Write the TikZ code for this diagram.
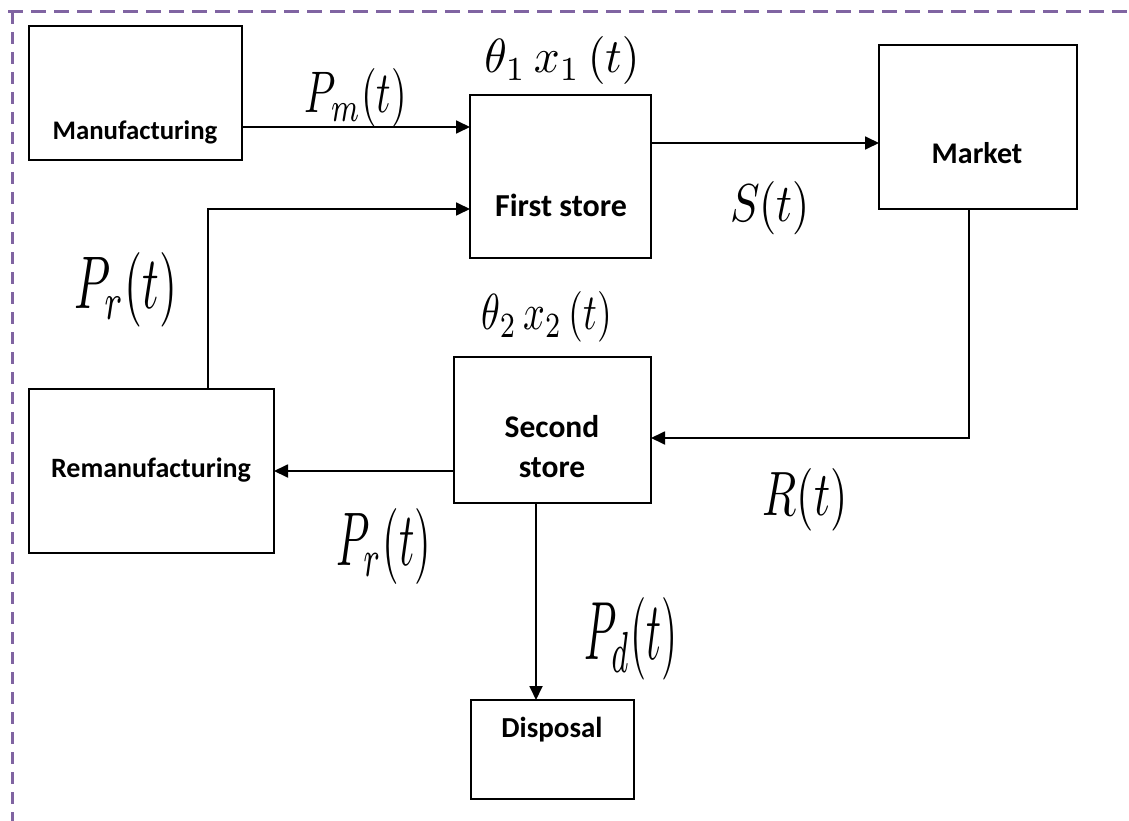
\documentclass[tikz,border=0pt]{standalone}
\usepackage{fontspec}
\newfontfamily\boxfont{Carlito}
\usetikzlibrary{arrows.meta}
\definecolor{brd}{HTML}{8064A2}
\newcommand\mlab[3]{\resizebox{#1pt}{#2pt}{#3}}
\begin{document}
\begin{tikzpicture}[x=1pt,y=-1pt,
  blk/.style={draw, line width=1.8pt, inner sep=0pt, outer sep=0pt, anchor=north west},
  txt/.style={font=\boxfont\bfseries\fontsize{28}{40}\selectfont, inner sep=0pt, align=center},
  lab/.style={inner sep=0pt},
  arr/.style={line width=1.8pt, -{Triangle[length=14pt,width=13pt]}},
  border/.style={brd, line width=3pt}]
\useasboundingbox (0,0) rectangle (1129,821);
\draw[border, dash pattern=on 15pt off 8pt] (8,12) -- (1129,12);
\draw[border, dash pattern=on 12pt off 8pt] (12,12) -- (12,821);
% boxes
\node[blk, minimum width=213pt, minimum height=134pt] (man) at (29,26) {};
\node[blk, minimum width=181pt, minimum height=163pt] (first) at (470,95) {};
\node[blk, minimum width=198pt, minimum height=164pt] (market) at (879,45) {};
\node[blk, minimum width=197pt, minimum height=146pt] (second) at (454,357) {};
\node[blk, minimum width=245pt, minimum height=164pt] (reman) at (29,389) {};
\node[blk, minimum width=163pt, minimum height=99pt] (disp) at (471,700) {};
% box texts
\node[txt, font=\boxfont\bfseries\fontsize{26.8}{40}\selectfont] (mant) at (135,132) {Manufacturing};
\node[txt, font=\boxfont\bfseries\fontsize{32}{40}\selectfont] (firstt) at (561,205) {First store};
\node[txt, font=\boxfont\bfseries\fontsize{30}{40}\selectfont] (markett) at (977,153) {Market};
\node[txt, font=\boxfont\bfseries\fontsize{31.5}{40}\selectfont] (secondt) at (552,447) {Second\\store};
\node[txt] (remant) at (151,470) {Remanufacturing};
\node[txt, font=\boxfont\bfseries\fontsize{29}{40}\selectfont] (dispt) at (552,730) {Disposal};
% connectors
\draw[arr] (man.east |- 0,127) -- (first.west |- 0,127);
\draw[arr] (reman.north -| 208,0) |- (first.west |- 0,209);
\draw[arr] (first.east |- 0,143) -- (market.west |- 0,143);
\draw[arr] (market.south -| 969,0) |- (second.east |- 0,438);
\draw[arr] (second.west |- 0,471) -- (reman.east |- 0,471);
\draw[arr] (second.south -| 536,0) -- (disp.north -| 536,0);
% labels
\node[lab] (lpm) at (356,98) {\mlab{102}{44}{$P_m(t)$}};
\node[lab] (lth1) at (562,61) {\mlab{155}{36}{$\theta_1\,x_1\,(t)$}};
\node[lab] (ls) at (770,208) {\mlab{80}{40}{$S(t)$}};
\node[lab] (lpr1) at (126,290) {\mlab{103}{56}{$P_r(t)$}};
\node[lab] (lth2) at (547,317) {\mlab{130}{38}{$\theta_2\,x_2\,(t)$}};
\node[lab] (lr) at (805,500) {\mlab{85}{47}{$R(t)$}};
\node[lab] (lpr2) at (384,546) {\mlab{95}{57}{$P_r(t)$}};
\node[lab] (lpd) at (631,639) {\mlab{93}{62}{$P_d(t)$}};
\end{tikzpicture}
\end{document}
